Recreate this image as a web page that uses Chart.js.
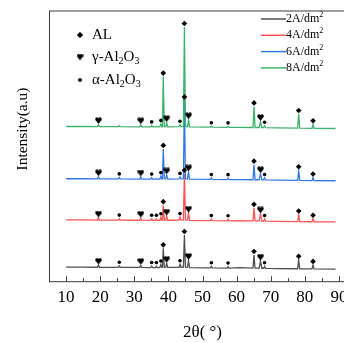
<!DOCTYPE html>
<html>
<head>
<meta charset="utf-8">
<script src="https://cdn.jsdelivr.net/npm/chart.js@4.4.1/dist/chart.umd.min.js"></script>
<style>
  html, body { margin: 0; padding: 0; background: #fff; overflow: hidden; }
  #wrap { position: relative; width: 344px; height: 343px; overflow: hidden; }
  canvas { display: block; }
</style>
</head>
<body>
<div id="wrap"><canvas id="xrd" width="360" height="343"></canvas></div>
<script>
// 2θ positions (deg) shared by all four patterns
const angles = [10, 15, 19.2, 19.5, 19.8, 25.3, 25.6, 25.9, 31.6, 31.9, 32.2, 34.8, 35.1, 35.4,
  36.2, 36.5, 36.8, 37.5, 37.8, 38.1, 38.25, 38.5, 38.8, 39.2, 39.5, 39.8, 43.1, 43.4, 43.7,
  44.4, 44.7, 45.0, 45.6, 45.9, 46.2, 52.3, 52.6, 52.9, 57.2, 57.5, 57.8, 61, 64.8, 65.1, 65.4,
  66.6, 67, 67.4, 67.9, 68.2, 68.5, 72, 77.9, 78.2, 78.5, 82.1, 82.4, 82.7, 89];

// intensities (a.u.), one value per angle
const int2A = [2, 2, 1.9, 3.9, 1.9, 1.8, 3.3, 1.8, 1.7, 3.7, 1.7, 1.6, 3.1, 1.6, 1.6, 3.1, 1.6,
  1.6, 4.6, 1.7, 1.7, 20.7, 1.8, 1.8, 5.8, 1.7, 1.8, 4.8, 1.9, 2, 34, 2, 1.8, 8.7, 1.6,
  1.3, 2.8, 1.3, 1.1, 2.6, 1.1, 1.6, 1, 14, 1, 1, 8, 0.9, 0.9, 2.8, 0.8, 0.6, 0.4, 9.4, 0.4,
  0.2, 4.2, 0.2, 0];
const int4A = [2, 2, 1.9, 3.9, 1.9, 1.8, 3.3, 1.8, 1.7, 3.7, 1.7, 1.6, 3.1, 1.6, 1.6, 3.1, 1.6,
  1.6, 4.6, 1.7, 1.7, 16.7, 1.8, 1.8, 5.8, 1.7, 1.8, 4.8, 1.9, 2, 48, 2, 1.8, 8.7, 1.6,
  1.3, 2.8, 1.3, 1.1, 2.6, 1.1, 1.2, 1, 14, 1, 1, 8, 0.9, 0.9, 2.8, 0.8, 0.6, 0.4, 7.4, 0.4,
  0.2, 3.2, 0.2, 0];
const int6A = [2, 2, 1.9, 3.9, 1.9, 1.8, 3.3, 1.8, 1.7, 3.7, 1.7, 1.6, 3.1, 1.6, 1.6, 2.1, 1.6,
  1.6, 4.6, 1.7, 1.7, 31.7, 1.8, 1.8, 5.8, 1.7, 1.8, 3.8, 1.9, 2, 80, 2, 1.8, 8.7, 1.6,
  1.3, 2.8, 1.3, 1.1, 2.6, 1.1, 1.2, 1, 16, 1, 1, 7, 0.9, 0.9, 2.8, 0.8, 0.6, 0.4, 10.4, 0.4,
  0.2, 3.2, 0.2, 0];
const int8A = [2, 2, 1.9, 3.9, 1.9, 1.8, 2.8, 1.8, 1.7, 3.7, 1.7, 1.6, 3.1, 1.6, 1.6, 2.1, 1.6,
  1.6, 4.6, 1.7, 1.7, 51.7, 1.8, 1.8, 5.8, 1.7, 1.8, 3.8, 1.9, 2, 101, 2, 1.8, 8.7, 1.6,
  1.3, 2.3, 1.3, 1.1, 2.1, 1.1, 1.2, 1, 22, 1, 1, 7, 0.9, 0.9, 2.8, 0.8, 0.6, 0.4, 14.4, 0.4,
  0.2, 4.2, 0.2, 0];

const currents = [2, 4, 6, 8];                 // A/dm2
const stackOffsets = [12, 59, 100, 152];        // vertical shift of each pattern
const lineColors = ['#505050', '#ff5252', '#3478e5', '#3db26c'];

// indexed peaks per pattern
const alPeaks = [38.5, 44.7, 65.1, 78.2, 82.4];
const gammaPeaks = [19.5, 31.9, 39.5, 45.9, 67];
const alphaPeaks = [
  [25.6, 35.1, 36.5, 37.8, 43.4, 52.6, 57.5, 68.2],
  [25.6, 35.1, 36.5, 37.8, 43.4, 52.6, 57.5, 68.2],
  [25.6, 35.1, 37.8, 43.4, 52.6, 57.5, 68.2],
  [35.1, 37.8, 43.4, 52.6, 57.5, 68.2]
];

const xTicks = [10, 20, 30, 40, 50, 60, 70, 80, 90];
const xMinorTicks = [15, 25, 35, 45, 55, 65, 75, 85];

const SERIF = '"Liberation Serif", "Times New Roman", serif';
const patterns = [int2A, int4A, int6A, int8A];

function makeHeart(size) {
  const c = document.createElement('canvas');
  c.width = size; c.height = size;
  const g = c.getContext('2d');
  const s = size;
  g.fillStyle = '#000';
  g.beginPath();
  g.arc(s * 0.28, s * 0.3, s * 0.25, 0, Math.PI * 2);
  g.arc(s * 0.72, s * 0.3, s * 0.25, 0, Math.PI * 2);
  g.fill();
  g.beginPath();
  g.moveTo(s * 0.04, s * 0.38);
  g.lineTo(s * 0.96, s * 0.38);
  g.lineTo(s * 0.5, s * 0.98);
  g.closePath();
  g.fill();
  return c;
}
const heartImg = makeHeart(7);

function markerPoints(peaksFor, gap) {
  const pts = [];
  patterns.forEach((vals, s) => {
    peaksFor(s).forEach(a => {
      const i = angles.indexOf(a);
      pts.push({ x: a, y: stackOffsets[s] + vals[i] + gap });
    });
  });
  return pts;
}

const lineSets = patterns.map((vals, s) => ({
  label: currents[s] + 'A/dm²',
  data: angles.map((a, i) => ({ x: a, y: vals[i] + stackOffsets[s] })),
  borderColor: lineColors[s],
  borderWidth: 1.3,
  pointRadius: 0,
  tension: 0,
  order: 4 - s
}));

const markerSets = [
  { label: 'AL', data: markerPoints(() => alPeaks, 3.5), pointStyle: 'rectRot', pointRadius: 2.8 },
  { label: 'γ-Al2O3', data: markerPoints(() => gammaPeaks, 4), pointStyle: heartImg, pointRadius: 3.5 },
  { label: 'α-Al2O3', data: markerPoints(s => alphaPeaks[s], 3.5), pointStyle: 'circle', pointRadius: 1.8 }
].map(d => Object.assign(d, {
  showLine: false,
  backgroundColor: '#000',
  borderColor: '#000',
  borderWidth: 0,
  order: 0
}));

const decor = {
  id: 'decor',
  afterDraw(chart) {
    const { ctx, chartArea: a, scales: { x } } = chart;
    const seg = (x1, y1, x2, y2) => { ctx.beginPath(); ctx.moveTo(x1, y1); ctx.lineTo(x2, y2); ctx.stroke(); };
    ctx.save();
    // frame
    ctx.strokeStyle = '#7c7c7c'; ctx.lineWidth = 1.6;
    seg(a.left, a.top, a.right, a.top);
    ctx.strokeStyle = '#3a3a3a'; ctx.lineWidth = 1;
    seg(a.left + 0.5, a.top, a.left + 0.5, a.bottom + 0.5);
    seg(a.left, a.bottom + 0.5, a.right, a.bottom + 0.5);
    // inward ticks
    xTicks.forEach(v => { const p = Math.round(x.getPixelForValue(v)) + 0.5; seg(p, a.bottom, p, a.bottom - 5); });
    xMinorTicks.forEach(v => { const p = Math.round(x.getPixelForValue(v)) + 0.5; seg(p, a.bottom, p, a.bottom - 3); });

    // y title
    ctx.fillStyle = '#000';
    ctx.save();
    ctx.translate(23, 129);
    ctx.rotate(-Math.PI / 2);
    ctx.font = '15.5px ' + SERIF;
    ctx.textAlign = 'center';
    ctx.textBaseline = 'middle';
    ctx.fillText('Intensity(a.u)', 0, 0);
    ctx.restore();

    // phase legend
    const phaseRows = [
      { y: 35, style: 'rectRot', r: 2.8, parts: [['AL', 0]] },
      { y: 57, style: heartImg, r: 3.5, parts: [['γ-Al', 0], ['2', 1], ['O', 0], ['3', 1]] },
      { y: 80, style: 'circle', r: 1.8, parts: [['α-Al', 0], ['2', 1], ['O', 0], ['3', 1]] }
    ];
    ctx.textAlign = 'left';
    ctx.textBaseline = 'middle';
    phaseRows.forEach(row => {
      Chart.helpers.drawPoint(ctx, { pointStyle: row.style, radius: row.r, borderWidth: 0 }, 80, row.y);
      ctx.fillStyle = '#000';
      ctx.fill();
      let tx = 92;
      row.parts.forEach(([t, sub]) => {
        ctx.font = (sub ? '10px ' : '15px ') + SERIF;
        ctx.fillText(t, tx, row.y + (sub ? 4 : 0));
        tx += ctx.measureText(t).width;
      });
    });

    // current density legend
    const rowsY = [19, 35.3, 51.6, 67.9];
    currents.forEach((c, s) => {
      ctx.strokeStyle = lineColors[s]; ctx.lineWidth = 1.5;
      seg(261, rowsY[s], 286, rowsY[s]);
      ctx.fillStyle = '#000';
      ctx.font = '12px ' + SERIF;
      const main = c + 'A/dm';
      ctx.fillText(main, 286, rowsY[s]);
      const w = ctx.measureText(main).width;
      ctx.font = '8px ' + SERIF;
      ctx.fillText('2', 286 + w, rowsY[s] - 4);
    });
    ctx.restore();
  }
};

new Chart(document.getElementById('xrd'), {
  type: 'line',
  data: { datasets: [...markerSets, ...lineSets] },
  options: {
    responsive: false,
    animation: false,
    events: [],
    layout: { padding: { left: 49, top: 11, right: 3.5, bottom: 0 } },
    scales: {
      x: {
        type: 'linear',
        min: 5,
        max: 95,
        afterBuildTicks: scale => { scale.ticks = xTicks.map(v => ({ value: v })); },
        grid: { display: false, drawTicks: false },
        border: { display: false },
        ticks: {
          color: '#000',
          font: { family: SERIF, size: 17 },
          padding: 6,
          maxRotation: 0,
          autoSkip: false
        },
        title: {
          display: true,
          text: '2θ( °)',
          color: '#000',
          font: { family: SERIF, size: 17 },
          padding: { top: 9, bottom: 0 }
        }
      },
      y: { display: false, min: 0, max: 269 }
    },
    plugins: {
      legend: { display: false },
      tooltip: { enabled: false }
    }
  },
  plugins: [decor]
});
</script>
</body>
</html>
